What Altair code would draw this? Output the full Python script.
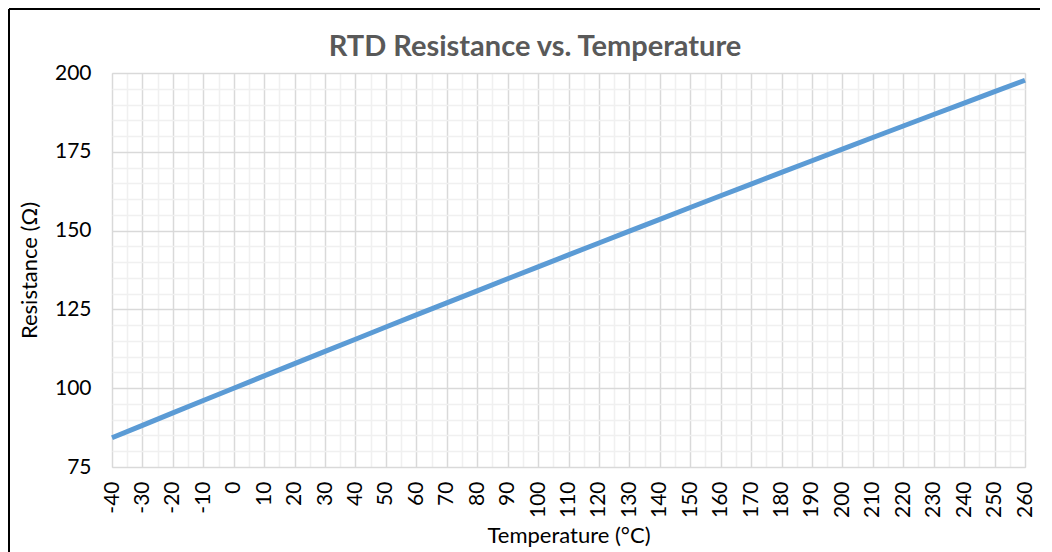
import altair as alt
import pandas as pd

temperature_c = [-40, -30, -20, -10, 0, 10, 20, 30, 40, 50, 60, 70, 80, 90, 100,
                 110, 120, 130, 140, 150, 160, 170, 180, 190, 200, 210, 220, 230,
                 240, 250, 260]
resistance_ohm = [84.27, 88.22, 92.16, 96.09, 100.00, 103.90, 107.79, 111.67,
                  115.54, 119.40, 123.24, 127.08, 130.90, 134.71, 138.51, 142.29,
                  146.07, 149.83, 153.58, 157.33, 161.05, 164.77, 168.48, 172.17,
                  175.86, 179.53, 183.19, 186.84, 190.47, 194.10, 197.71]

x_ticks = list(range(-40, 261, 5))
y_ticks = list(range(75, 201, 5))
chart_title = "RTD Resistance vs. Temperature"

df = pd.DataFrame({"T": temperature_c, "R": resistance_ohm})

FONT = "Lato"

x_axis = alt.Axis(
    values=x_ticks,
    labelExpr="datum.value % 10 === 0 ? '' + datum.value : ''",
    labelAngle=270,
    labelFontSize=21,
    labelFont=FONT,
    labelColor="#000000",
    labelPadding=14,
    tickSize=0,
    domain=False,
    gridColor={"condition": {"test": "datum.value % 10 === 0", "value": "#D9D9D9"}, "value": "#F0F0F0"},
    gridWidth=1.5,
    title="Temperature (°C)",
    titleFont=FONT,
    titleFontSize=22,
    titleFontWeight="normal",
    titleColor="#000000",
    titlePadding=8,
)
y_axis = alt.Axis(
    values=y_ticks,
    labelExpr="datum.value % 25 === 0 ? '' + datum.value : ''",
    labelFontSize=21,
    labelFont=FONT,
    labelColor="#000000",
    labelPadding=21,
    tickSize=0,
    domain=False,
    gridColor={"condition": {"test": "datum.value % 25 === 0", "value": "#D9D9D9"}, "value": "#F0F0F0"},
    gridWidth=1.5,
    title="Resistance (Ω)",
    titleFont=FONT,
    titleFontSize=22,
    titleFontWeight="normal",
    titleColor="#000000",
    titlePadding=13,
)

line = alt.Chart(df).mark_line(color="#5B9BD5", strokeWidth=5).encode(
    x=alt.X("T:Q", scale=alt.Scale(domain=[-40, 260], nice=False, zero=False), axis=x_axis),
    y=alt.Y("R:Q", scale=alt.Scale(domain=[75, 200], nice=False, zero=False), axis=y_axis),
)

frame_data = alt.Data(values=[{"title": chart_title}])
frame_left = alt.Chart(frame_data).mark_rule(color="#000000", strokeWidth=2).encode(
    x=alt.value(-103), y=alt.value(-64), y2=alt.value(520)
)
frame_top = alt.Chart(frame_data).mark_rule(color="#000000", strokeWidth=2).encode(
    x=alt.value(-103), x2=alt.value(960), y=alt.value(-64)
)
title_text = alt.Chart(frame_data).mark_text(
    font=FONT, fontSize=29, fontWeight="bold", color="#595959",
    align="center", baseline="alphabetic",
).encode(
    x=alt.value(423), y=alt.value(-17), text="title:N"
)

chart = alt.layer(line, frame_left, frame_top, title_text).properties(
    width=913,
    height=394,
    autosize=alt.AutoSizeParams(type="none"),
    padding={"left": 104, "top": 65, "right": 15, "bottom": 85},
).configure_view(
    stroke="#000000", strokeWidth=2
).configure(background="#FFFFFF")

chart.save("out.html", embed_options={"renderer": "svg", "actions": False})
